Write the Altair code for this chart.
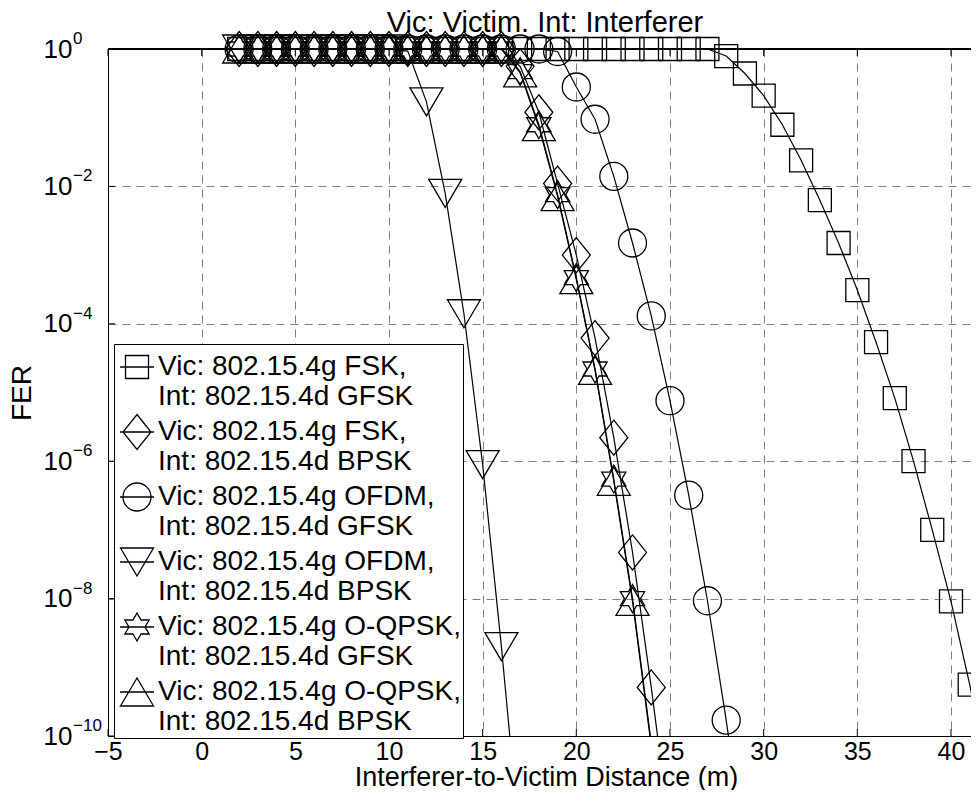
import math
import altair as alt
import pandas as pd

FONT = "Liberation Sans"

# ---------------- data ----------------
SERIES = [
    "Vic: 802.15.4g FSK,|Int: 802.15.4d GFSK",
    "Vic: 802.15.4g FSK,|Int: 802.15.4d BPSK",
    "Vic: 802.15.4g OFDM,|Int: 802.15.4d GFSK",
    "Vic: 802.15.4g OFDM,|Int: 802.15.4d BPSK",
    "Vic: 802.15.4g O-QPSK,|Int: 802.15.4d GFSK",
    "Vic: 802.15.4g O-QPSK,|Int: 802.15.4d BPSK",
]

dist_fsk_gfsk = list(range(2, 43))
fer_fsk_gfsk = [1.0, 1.0, 1.0, 1.0, 1.0, 1.0, 1.0, 1.0, 1.0, 1.0, 1.0, 1.0, 1.0,
                1.0, 1.0, 1.0, 1.0, 1.0, 1.0, 1.0, 1.0, 1.0, 1.0, 1.0, 1.0, 1.0,
                7.9e-1, 4.4e-1, 2.1e-1, 7.9e-2, 2.4e-2, 6.3e-3, 1.5e-3, 3.1e-4,
                5.4e-5, 8.3e-6, 1.0e-6, 1.0e-7, 9.1e-9, 5.6e-10, 2.5e-11]

dist_fsk_bpsk = list(range(2, 26))
fer_fsk_bpsk = [1.0, 1.0, 1.0, 1.0, 1.0, 1.0, 1.0, 1.0, 1.0, 1.0, 1.0, 1.0, 1.0,
                1.0, 1.0, 5.6e-1, 1.2e-1, 1.1e-2, 1.0e-3, 6.2e-5, 2.2e-6, 4.7e-8,
                5.1e-10, 4.0e-12]

dist_ofdm_gfsk = list(range(2, 30))
fer_ofdm_gfsk = [1.0, 1.0, 1.0, 1.0, 1.0, 1.0, 1.0, 1.0, 1.0, 1.0, 1.0, 1.0, 1.0,
                 1.0, 1.0, 1.0, 1.0, 9.2e-1, 2.8e-1, 9.5e-2, 1.4e-2, 1.5e-3,
                 1.3e-4, 7.6e-6, 3.2e-7, 9.3e-9, 1.7e-10, 2.0e-12]

dist_ofdm_bpsk = list(range(2, 18))
fer_ofdm_bpsk = [1.0, 1.0, 1.0, 1.0, 1.0, 1.0, 1.0, 1.0, 1.0, 9.3e-1, 1.7e-1,
                 7.9e-3, 1.4e-4, 8.9e-7, 2.0e-9, 2.5e-12]

dist_oqpsk_gfsk = list(range(2, 25))
fer_oqpsk_gfsk = [1.0, 1.0, 1.0, 1.0, 1.0, 1.0, 1.0, 1.0, 1.0, 1.0, 1.0, 1.0,
                  1.0, 1.0, 1.0, 4.7e-1, 7.9e-2, 7.6e-3, 4.7e-4, 2.2e-5, 5.5e-7,
                  1.0e-8, 7.9e-11]

dist_oqpsk_bpsk = list(range(2, 25))
fer_oqpsk_bpsk = [1.0, 1.0, 1.0, 1.0, 1.0, 1.0, 1.0, 1.0, 1.0, 1.0, 1.0, 1.0,
                  1.0, 1.0, 1.0, 4.5e-1, 7.4e-2, 7.1e-3, 4.4e-4, 2.1e-5, 5.1e-7,
                  9.1e-9, 7.1e-11]

X_TICKS = [-5, 0, 5, 10, 15, 20, 25, 30, 35, 40]
Y_TICKS = [1e0, 1e-2, 1e-4, 1e-6, 1e-8, 1e-10]
Y_EXP = ["0", "\u22122", "\u22124", "\u22126", "\u22128", "\u221210"]

TITLE = "Vic: Victim. Int: Interferer"
X_TITLE = "Interferer-to-Victim Distance (m)"
Y_TITLE = "FER"

# ---------------- tables ----------------
rows = []
for name, xs, ys in zip(
    SERIES,
    [dist_fsk_gfsk, dist_fsk_bpsk, dist_ofdm_gfsk, dist_ofdm_bpsk, dist_oqpsk_gfsk, dist_oqpsk_bpsk],
    [fer_fsk_gfsk, fer_fsk_bpsk, fer_ofdm_gfsk, fer_ofdm_bpsk, fer_oqpsk_gfsk, fer_oqpsk_bpsk],
):
    for xv, yv in zip(xs, ys):
        rows.append({"series": name, "dist": xv, "fer": yv})
df = pd.DataFrame(rows)

xtick_df = pd.DataFrame({"dist": X_TICKS})
ytick_df = pd.DataFrame({"fer": Y_TICKS, "exp": Y_EXP})
title_df = pd.DataFrame({"t": [TITLE]})

# ---------------- layout ----------------
W, H = 863, 687

# ---------------- marker shapes (pixel sizes -> path units) ----------------
U = 20.25
SIZE = (2 * U) ** 2


def f(v):
    return f"{v / U:.4f}"


def poly(pts):
    return "M" + "L".join(f"{f(px)},{f(py)}" for px, py in pts) + "Z"


def circle(r):
    return (f"M{f(-r)},0A{f(r)},{f(r)},0,1,0,{f(r)},0"
            f"A{f(r)},{f(r)},0,1,0,{f(-r)},0Z")


def hexagram(R):
    r = R / math.sqrt(3)
    pts = []
    for k in range(6):
        a1 = math.radians(-90 + 60 * k)
        a2 = math.radians(-60 + 60 * k)
        pts.append((R * math.cos(a1), R * math.sin(a1)))
        pts.append((r * math.cos(a2), r * math.sin(a2)))
    return poly(pts)


PLOT_PATHS = [
    poly([(-11.5, -11.5), (11.5, -11.5), (11.5, 11.5), (-11.5, 11.5)]),
    poly([(0, -17.5), (14, 0), (0, 17.5), (-14, 0)]),
    circle(14),
    poly([(-16.5, -14), (16.5, -14), (0, 14)]),
    hexagram(14),
    poly([(0, -14), (16.5, 14), (-16.5, 14)]),
]
LEG_LINE = f" M{f(-17)},0L{f(17)},0"
LEGEND_PATHS = [p + LEG_LINE for p in PLOT_PATHS]

# ---------------- chart ----------------
x_enc = alt.X(
    "dist:Q",
    scale=alt.Scale(domain=[-5, -5 + W / 18.733], nice=False, zero=False),
    axis=alt.Axis(values=X_TICKS, format="d", title=X_TITLE, labelPadding=3,
                  labelFontSize=25, labelFlush=False, titleX=438, titleY=49,
                  titleFontSize=27, titleBaseline="alphabetic", titleAlign="center"),
)
y_enc = alt.Y(
    "fer:Q",
    scale=alt.Scale(type="log", domain=[1e-10, 1], nice=False),
    axis=alt.Axis(values=Y_TICKS, labelExpr="'10'", title=Y_TITLE,
                  labelPadding=36, labelFlush=False, titleX=-86, titleY=343.5,
                  titleAngle=270, titleBaseline="middle", titleAlign="center"),
)

lines = alt.Chart(df).mark_line(color="black", strokeWidth=1.2, clip=True).encode(
    x=x_enc, y=y_enc, detail="series:N"
)

points = alt.Chart(df).transform_filter("datum.fer >= 1e-10").mark_point(
    filled=False, color="black", strokeWidth=1.3, opacity=1, size=SIZE
).encode(
    x="dist:Q", y="fer:Q",
    shape=alt.Shape("series:N", scale=alt.Scale(domain=SERIES, range=PLOT_PATHS), legend=None),
)

legend_layer = alt.Chart(df).transform_filter("false").mark_point(
    filled=False, color="black", strokeWidth=1.3, opacity=1, size=SIZE
).encode(
    x="dist:Q", y="fer:Q",
    shape=alt.Shape(
        "series:N",
        scale=alt.Scale(domain=SERIES, range=LEGEND_PATHS),
        legend=alt.Legend(
            orient="none", legendX=6, legendY=295, title=None,
            strokeColor="black", fillColor="white", padding=2,
            labelFont=FONT, labelFontSize=28, labelColor="black",
            labelLimit=1000, labelOffset=0, rowPadding=0,
            labelExpr="split(datum.label, '|')",
            symbolSize=SIZE, symbolStrokeWidth=1.3, symbolStrokeColor="black",
            symbolFillColor="transparent",
        ),
    ),
)

top_frame = alt.Chart(xtick_df).mark_rule(color="black", strokeWidth=1).encode(
    x=alt.value(0), x2=alt.value(W), y=alt.value(0)
)
xticks_bottom = alt.Chart(xtick_df).mark_rule(color="black", strokeWidth=1).encode(
    x="dist:Q", y=alt.value(H), y2=alt.value(H - 7)
)
xticks_top = alt.Chart(xtick_df).mark_rule(color="black", strokeWidth=1).encode(
    x="dist:Q", y=alt.value(0), y2=alt.value(7)
)
yticks = alt.Chart(ytick_df).mark_rule(color="black", strokeWidth=1).encode(
    y="fer:Q", x=alt.value(0), x2=alt.value(7)
)
exps = alt.Chart(ytick_df).mark_text(
    align="left", baseline="alphabetic", dy=-5, fontSize=17, font=FONT, color="black"
).encode(x=alt.value(-35), y="fer:Q", text="exp:N")

title_text = alt.Chart(title_df).mark_text(
    align="center", baseline="alphabetic", fontSize=29, font=FONT, color="black"
).encode(x=alt.value(437), y=alt.value(-17), text="t:N")

chart = alt.layer(
    lines, points, top_frame, xticks_bottom, xticks_top, yticks, exps,
    title_text, legend_layer
).resolve_scale(shape="independent").properties(
    width=W, height=H,
    autosize=alt.AutoSizeParams(type="none"),
    padding={"left": 100, "top": 41, "right": 0, "bottom": 54},
).configure(
    style={"guide-label": {"lineHeight": 29.5}}
).configure_view(stroke=None).configure_axis(
    domain=True, domainColor="black", domainWidth=1,
    ticks=False, grid=True, gridColor="#808080", gridDash=[8, 6],
    gridWidth=1, labelFont=FONT, labelFontSize=26, labelColor="black",
    titleFont=FONT, titleFontSize=28, titleColor="black", titleFontWeight="normal",
)

chart.save("out.html", embed_options={"renderer": "svg", "actions": False})
